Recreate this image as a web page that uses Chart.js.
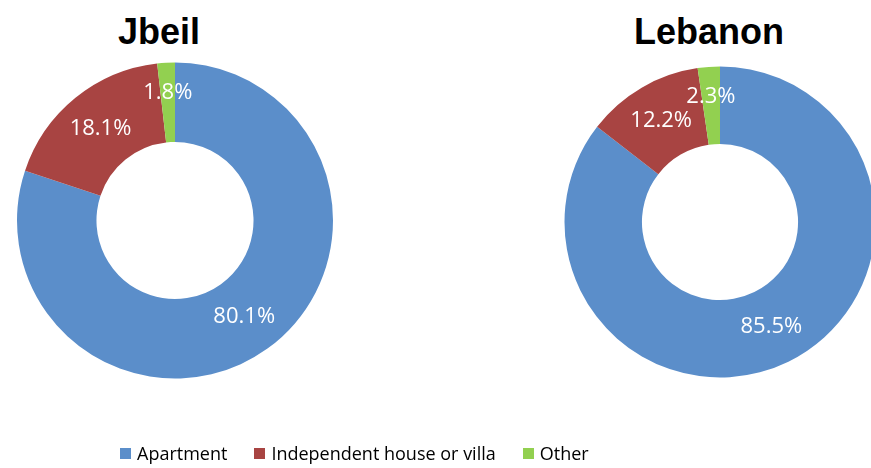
<!DOCTYPE html>
<html>
<head>
<meta charset="utf-8">
<script src="https://cdn.jsdelivr.net/npm/chart.js@4/dist/chart.umd.min.js"></script>
<style>
  html, body { margin:0; padding:0; width:871px; height:468px; overflow:hidden; background:#fff; }
  .wrap { position:absolute; }
  .title { position:absolute; font-family:"Liberation Sans", Arial, sans-serif; font-weight:bold; font-size:36px; color:#000; transform:translateX(-50%); white-space:nowrap; line-height:1; }
  #legend { position:absolute; left:120px; top:441px; display:flex; align-items:center; font-family:"Open Sans", sans-serif; font-size:18px; color:#000; }
  #legend .item { display:flex; align-items:center; margin-right:27px; }
  #legend .sw { width:11px; height:11px; margin-right:6px; }
</style>
</head>
<body>
<div class="title" style="left:159px; top:14px;" id="t0"></div>
<div class="title" style="left:709px; top:14px;" id="t1"></div>
<div class="wrap" style="left:0; top:0; width:350px; height:441px;"><canvas id="c0"></canvas></div>
<div class="wrap" style="left:540px; top:0; width:360px; height:444px;"><canvas id="c1"></canvas></div>
<div id="legend"></div>
<script>
const categories = ["Apartment", "Independent house or villa", "Other"];
const regions = ["Jbeil", "Lebanon"];
const jbeilValues = [80.1, 18.1, 1.8];
const lebanonValues = [85.5, 12.2, 2.3];
const colors = ["#5B8ECA", "#A84442", "#92D050"];

const labelPlugin = {
  id: 'sliceLabels',
  afterDatasetsDraw(chart) {
    const ctx = chart.ctx;
    const meta = chart.getDatasetMeta(0);
    const data = chart.data.datasets[0].data;
    ctx.save();
    ctx.fillStyle = '#fff';
    ctx.font = '22px "Open Sans", sans-serif';
    ctx.textAlign = 'center';
    ctx.textBaseline = 'middle';
    meta.data.forEach((arc, i) => {
      const p = arc.getProps(['x','y','startAngle','endAngle','innerRadius','outerRadius'], true);
      const mid = (p.startAngle + p.endAngle) / 2;
      const frac = data[i] < 5 ? 0.62 : 0.5;
      const r = p.innerRadius + (p.outerRadius - p.innerRadius) * frac;
      ctx.fillText(data[i].toFixed(1) + '%', p.x + Math.cos(mid) * r, p.y + Math.sin(mid) * r);
    });
    ctx.restore();
  }
};

function makeChart(id, values, radius, cutout) {
  return new Chart(document.getElementById(id), {
    type: 'doughnut',
    data: { labels: categories, datasets: [{ data: values, backgroundColor: colors, borderWidth: 0 }] },
    options: {
      responsive: true, maintainAspectRatio: false, animation: false,
      radius: radius, cutout: cutout,
      layout: { padding: 0 },
      plugins: { legend: { display: false }, title: { display: false }, tooltip: { enabled: false } }
    },
    plugins: [labelPlugin]
  });
}
document.getElementById('t0').textContent = regions[0];
document.getElementById('t1').textContent = regions[1];
makeChart('c0', jbeilValues, 158, '49.7%');
makeChart('c1', lebanonValues, 155.5, '50.2%');

const lg = document.getElementById('legend');
categories.forEach((c, i) => {
  const it = document.createElement('div'); it.className = 'item';
  const sw = document.createElement('div'); sw.className = 'sw'; sw.style.background = colors[i];
  const tx = document.createElement('span'); tx.textContent = c;
  it.appendChild(sw); it.appendChild(tx); lg.appendChild(it);
});
</script>
</body>
</html>
